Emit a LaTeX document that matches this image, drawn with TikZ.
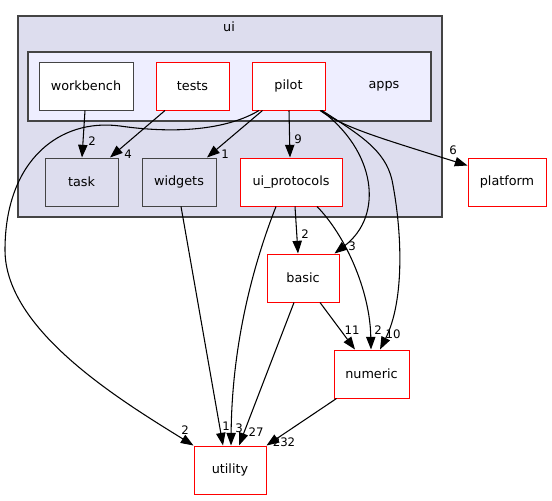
\documentclass[tikz,border=0pt]{standalone}
\usepackage{fontspec}
\setmainfont{DejaVu Sans}
\usetikzlibrary{positioning}
\usetikzlibrary{calc}
\usetikzlibrary{arrows.meta}
\definecolor{uibg}{HTML}{DDDDEE}
\definecolor{appsbg}{HTML}{EEEEFF}
\definecolor{dirred}{HTML}{FF0000}
\definecolor{frame}{HTML}{444444}

\tikzset{
  dirbox/.style={draw=dirred, fill=white, line width=0.75pt, minimum height=36pt, inner sep=0pt, font=\fontsize{9.6}{11}\selectfont},
  subdir/.style={dirbox, draw=frame, fill=uibg},
  plain/.style={dirbox, draw=frame},
  dep/.style={draw=black, line width=0.8pt, -{Triangle[length=9.5pt, width=7pt]}},
  elabel/.style={inner sep=0pt, font=\fontsize{8.8}{10}\selectfont},
}

\begin{document}
\begin{tikzpicture}[x=0.75pt, y=-0.75pt]
       \useasboundingbox (0,0) rectangle (552,500);
       % clusters
       \draw[frame, fill=uibg, line width=0.8pt] (18,16) rectangle (442,217);
       \node[font=\fontsize{9.6}{11}\selectfont] (uilabel) at (229,27) {ui};
       \draw[frame, fill=appsbg, line width=0.8pt] (28,52) rectangle (431,121);
       \node[font=\fontsize{9.6}{11}\selectfont] (appslabel) at (384,86) {apps};

       % directories
       \node[plain,  minimum width=70.5pt] (workbench)    at ( 86,  86) {workbench};
       \node[dirbox, minimum width=54.75pt] (tests)       at (192.5, 86) {tests};
       \node[dirbox, minimum width=54.75pt] (pilot)       at (288.5, 86) {pilot};
       \node[subdir, minimum width=54.75pt] (task)        at ( 81.5,182) {task};
       \node[subdir, minimum width=55.5pt] (widgets)      at (179, 182) {widgets};
       \node[dirbox, minimum width=76.5pt] (ui_protocols) at (291, 182) {ui\_protocols};
       \node[dirbox, minimum width=58.5pt] (platform)     at (507, 182) {platform};
       \node[dirbox, minimum width=54pt] (basic)          at (303, 278) {basic};
       \node[dirbox, minimum width=56.25pt] (numeric)     at (371.5,374) {numeric};
       \node[dirbox, minimum width=54pt] (utility)        at (230, 470) {utility};

       % dependencies
       \draw[dep] ($(workbench.south)+(-1,0)$) -- ($(task.north)+(0.5,0)$) node[elabel, at={(92,141)}] {2};
       \draw[dep] ($(tests.south)+(-27.5,0)$) -- ($(task.north)+(28.5,0)$) node[elabel, at={(128,154)}] {4};
       \draw[dep] ($(pilot.south)+(-26,0)$) -- ($(widgets.north)+(28,0)$) node[elabel, at={(225,154)}] {1};
       \draw[dep] ($(pilot.south)+(0.5,0)$) -- ($(ui_protocols.north)+(-1,0)$) node[elabel, at={(298,139)}] {9};
       \draw[dep] ($(pilot.south)+(31.5,0)$) .. controls (345,128) and (380,138) .. ($(platform.north west)+(0,8)$) node[elabel, at={(453,150)}] {6};
       \draw[dep] ($(pilot.south)+(-29.5,0)$) .. controls (235,125) and (190,136) .. (120,126)
              .. controls (60,118) and (5,160) .. (5,250)
              .. controls (5,330) and (120,400) .. (utility.north west) node[elabel, at={(185,430)}] {2};
       \draw[dep] ($(pilot.south)+(32.5,0)$) .. controls (375,150) and (385,215) .. ($(basic.north east)+(-5,0)$) node[elabel, at={(352,246)}] {3};
       \draw[dep] ($(pilot.south)+(33.5,0)$) .. controls (360,135) and (385,150) .. (392,180)
              .. controls (402,230) and (405,300) .. ($(numeric.north)+(8.5,0)$) node[elabel, at={(393,334)}] {10};
       \draw[dep] ($(ui_protocols.south)+(4,0)$) -- ($(basic.north)+(-5,0)$) node[elabel, at={(305,234)}] {2};
       \draw[dep] ($(ui_protocols.south)+(26,0)$) .. controls (345,235) and (370,290) .. ($(numeric.north)+(-0.5,0)$) node[elabel, at={(378,330)}] {2};
       \draw[dep] ($(ui_protocols.south)+(-15,0)$) .. controls (255,260) and (232,340) .. ($(utility.north)+(1,0)$) node[elabel, at={(239,428)}] {3};
       \draw[dep] ($(widgets.south)+(2,0)$) -- ($(utility.north)+(-7,0)$) node[elabel, at={(226,426)}] {1};
       \draw[dep] ($(basic.south)+(-9,0)$) -- ($(utility.north)+(9,0)$) node[elabel, at={(256,432)}] {27};
       \draw[dep] ($(basic.south)+(17,0)$) -- ($(numeric.north)+(-16.5,0)$) node[elabel, at={(352,330)}] {11};
       \draw[dep] ($(numeric.south west)+(3,0)$) -- (utility.north east) node[elabel, at={(284,442)}] {232};
\end{tikzpicture}
\end{document}
